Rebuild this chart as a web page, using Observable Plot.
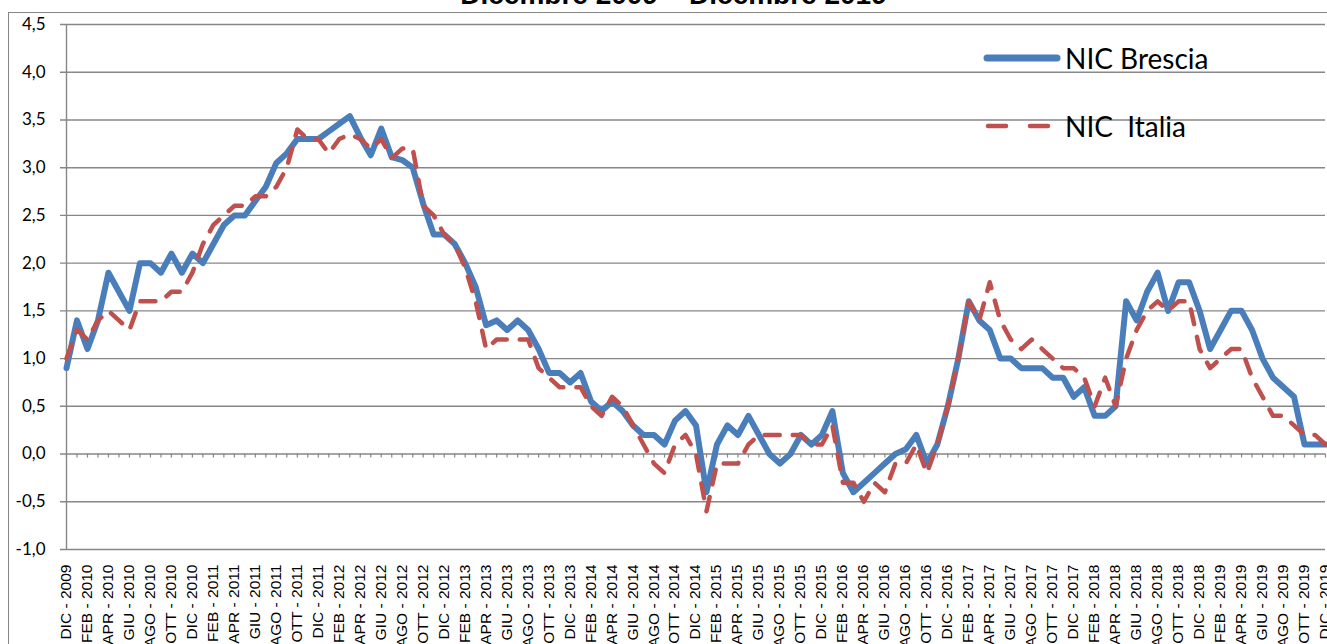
<!DOCTYPE html>
<html>
<head>
<meta charset="utf-8">
<script src="https://cdn.jsdelivr.net/npm/d3@7"></script>
<script src="https://cdn.jsdelivr.net/npm/@observablehq/plot@0.6"></script>
<style>
  html, body { margin: 0; padding: 0; background: #fff; }
  #wrap { position: relative; width: 1327px; height: 644px; overflow: hidden; background: #fff; }
  #border { position: absolute; left: 8px; top: 12px; width: 1400px; height: 700px; border: 1px solid #868686; box-sizing: border-box; }
  #title { position: absolute; left: 0; width: 1347px; text-align: center; top: -21px; font: bold 28px "Liberation Sans", Arial, sans-serif; color: #000; white-space: pre; }
  #chart { position: absolute; left: 0; top: 0; }
  .leg { position: absolute; left: 983px; font: 28px Lato, sans-serif; color: #000; display: flex; align-items: center; white-space: pre; }
  .leg svg { margin-right: 4px; }
</style>
</head>
<body>
<div id="wrap">
  <div id="border"></div>
  <div id="chart"></div>
  <div id="title">Dicembre 2009 – Dicembre 2019</div>
  <div class="leg" style="top:41px"><svg width="78" height="12"><line x1="4" y1="6" x2="74" y2="6" stroke="#4A7EBB" stroke-width="7" stroke-linecap="round"/></svg>NIC Brescia</div>
  <div class="leg" style="top:109px"><svg width="78" height="12"><line x1="5" y1="6" x2="70" y2="6" stroke="#C0504D" stroke-width="4.5" stroke-linecap="round" stroke-dasharray="18,24"/></svg>NIC  Italia</div>
</div>
<script>
// Month names (Italian) and years for the category axis (Dec 2009 .. Dec 2019)
const monthNames = ["GEN","FEB","MAR","APR","MAG","GIU","LUG","AGO","SET","OTT","NOV","DIC"];
const firstYear = 2009;
const firstMonth = 11; // DIC

// NIC Brescia (monthly, %)
const brescia = [
  0.9, 1.4, 1.1, 1.4, 1.9, 1.7, 1.5, 2.0, 2.0, 1.9, 2.1, 1.9,
  2.1, 2.0, 2.2, 2.4, 2.5, 2.5, 2.65, 2.8, 3.05, 3.15, 3.3, 3.3,
  3.3, 3.38, 3.46, 3.54, 3.32, 3.13, 3.41, 3.11, 3.08, 3.0, 2.62, 2.3,
  2.3, 2.2, 2.0, 1.75, 1.35, 1.4, 1.3, 1.4, 1.3, 1.1, 0.85, 0.85,
  0.75, 0.85, 0.55, 0.45, 0.55, 0.45, 0.3, 0.2, 0.2, 0.1, 0.35, 0.45,
  0.3, -0.4, 0.1, 0.3, 0.2, 0.4, 0.2, 0.0, -0.1, 0.0, 0.2, 0.1,
  0.2, 0.45, -0.2, -0.4, -0.3, -0.2, -0.1, 0.0, 0.05, 0.2, -0.1, 0.1,
  0.5, 1.0, 1.6, 1.4, 1.3, 1.0, 1.0, 0.9, 0.9, 0.9, 0.8, 0.8,
  0.6, 0.7, 0.4, 0.4, 0.5, 1.6, 1.4, 1.7, 1.9, 1.5, 1.8, 1.8,
  1.5, 1.1, 1.3, 1.5, 1.5, 1.3, 1.0, 0.8, 0.7, 0.6, 0.1, 0.1,
  0.1
];

// NIC Italia (monthly, %)
const italia = [
  1.0, 1.3, 1.2, 1.4, 1.5, 1.4, 1.3, 1.6, 1.6, 1.6, 1.7, 1.7,
  1.9, 2.2, 2.4, 2.5, 2.6, 2.6, 2.7, 2.7, 2.8, 3.0, 3.4, 3.3,
  3.3, 3.15, 3.3, 3.35, 3.3, 3.2, 3.3, 3.1, 3.2, 3.2, 2.6, 2.5,
  2.3, 2.2, 1.95, 1.6, 1.1, 1.2, 1.2, 1.2, 1.2, 0.9, 0.8, 0.7,
  0.7, 0.7, 0.5, 0.4, 0.6, 0.5, 0.3, 0.1, -0.1, -0.2, 0.1, 0.2,
  0.0, -0.6, -0.1, -0.1, -0.1, 0.1, 0.2, 0.2, 0.2, 0.2, 0.2, 0.1,
  0.1, 0.3, -0.3, -0.3, -0.5, -0.3, -0.4, -0.1, -0.1, 0.1, -0.2, 0.1,
  0.5, 1.0, 1.6, 1.4, 1.8, 1.4, 1.2, 1.1, 1.2, 1.1, 1.0, 0.9,
  0.9, 0.8, 0.5, 0.8, 0.5, 1.0, 1.3, 1.5, 1.6, 1.5, 1.6, 1.6,
  1.1, 0.9, 1.0, 1.1, 1.1, 0.8, 0.6, 0.4, 0.4, 0.3, 0.2, 0.2,
  0.1
];

// Y tick values
const yTicks = [-1.0, -0.5, 0.0, 0.5, 1.0, 1.5, 2.0, 2.5, 3.0, 3.5, 4.0, 4.5];

// categories built from the month names
const categories = brescia.map((_, i) => {
  const k = firstMonth + i;
  return `${monthNames[k % 12]} - ${firstYear + Math.floor(k / 12)}`;
});
const idx = categories.map((_, i) => i);
const labelIdx = idx.filter(i => i % 2 === 0);

const rowsB = idx.map(i => ({i, v: brescia[i]}));
const rowsI = idx.map(i => ({i, v: italia[i]}));

const fmt = d => d.toFixed(1).replace(".", ",");
const GRID = "#878787";

const chart = Plot.plot({
  width: 1327,
  height: 644,
  marginLeft: 66,
  marginRight: 2,
  marginTop: 24,
  marginBottom: 95,
  style: {background: "transparent", fontFamily: "'Liberation Sans', Arial, sans-serif", color: "#000"},
  x: {domain: [0, idx.length - 1], axis: null},
  y: {domain: [-1, 4.5], axis: null},
  marks: [
    Plot.gridY(yTicks, {stroke: GRID, strokeOpacity: 1, strokeWidth: 1.4, insetLeft: -6}),
    Plot.ruleX([0], {stroke: GRID, strokeWidth: 1.4}),
    Plot.ruleX(idx, {x: d => d, y1: 0, y2: 0, insetBottom: -4, stroke: GRID, strokeWidth: 1.2}),
    Plot.axisY(yTicks, {label: null, tickSize: 0, tickPadding: 21, tickFormat: fmt, fontSize: 17, fontFamily: "Lato", fill: "#000"}),
    Plot.text(labelIdx, {x: d => d, text: d => categories[d], rotate: -90, textAnchor: "end", lineAnchor: "middle", frameAnchor: "bottom", dy: 15, fontSize: 14, fill: "#000", className: "xlab"}),
    Plot.line(rowsB, {x: "i", y: "v", stroke: "#4A7EBB", strokeWidth: 6, strokeLinejoin: "round", strokeLinecap: "round"}),
    Plot.line(rowsI, {x: "i", y: "v", stroke: "#C0504D", strokeWidth: 4.5, strokeDasharray: "15,13", strokeLinejoin: "round", strokeLinecap: "round"})
  ]
});
// stretch the category labels along their reading direction, as in the original
d3.select(chart).selectAll(".xlab text").each(function() {
  const t = this.getAttribute("transform") || "";
  this.setAttribute("transform", t + " scale(1.11,1)");
});
document.getElementById("chart").appendChild(chart);
</script>
</body>
</html>
